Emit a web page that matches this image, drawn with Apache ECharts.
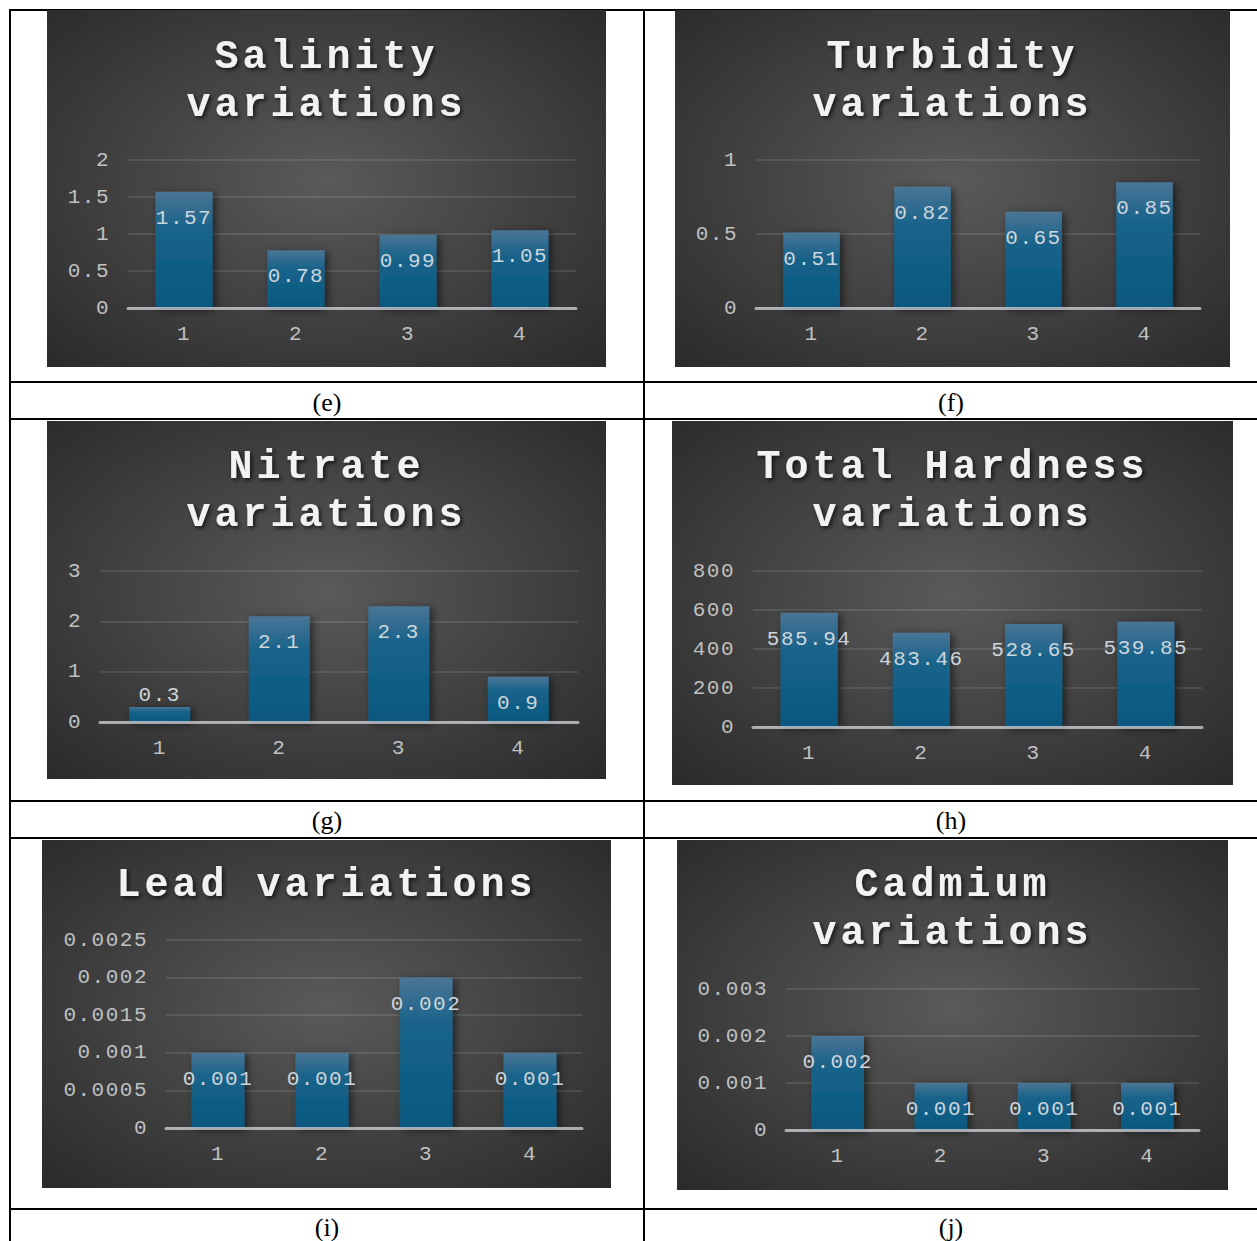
<!DOCTYPE html>
<html>
<head>
<meta charset="utf-8">
<script src="https://cdn.jsdelivr.net/npm/echarts@6/dist/echarts.min.js"></script>
<style>
  html, body { margin: 0; padding: 0; background: #fff; }
  body { position: relative; width: 1257px; height: 1241px; overflow: hidden; }
  .panel { position: absolute; }
  .hl { position: absolute; left: 9px; right: 0; height: 2px; background: #000; }
  .vl { position: absolute; top: 9px; bottom: 0; width: 2px; background: #000; }
  .cap { position: absolute; width: 200px; margin-left: -100px; text-align: center;
         font-family: 'Liberation Serif', 'Times New Roman', serif; font-size: 26px;
         line-height: 30px; color: #000; }
  /* spaced lettering used by every chart text, wider for the titles */
  .panel svg text { letter-spacing: 1.5px; }
  .panel svg text[style*="bold"] { letter-spacing: 4px; }
</style>
</head>
<body>
<script>
// ---- data ----
const categories = ['1', '2', '3', '4'];
const salinity  = [1.57, 0.78, 0.99, 1.05];
const turbidity = [0.51, 0.82, 0.65, 0.85];
const nitrate   = [0.3, 2.1, 2.3, 0.9];
const hardness  = [585.94, 483.46, 528.65, 539.85];
const lead      = [0.001, 0.001, 0.002, 0.001];
const cadmium   = [0.002, 0.001, 0.001, 0.001];

const titles = ['Salinity\nvariations', 'Turbidity\nvariations', 'Nitrate\nvariations',
                'Total Hardness\nvariations', 'Lead variations', 'Cadmium\nvariations'];
const captions = ['(e)', '(f)', '(g)', '(h)', '(i)', '(j)'];
const axisMax  = [2, 1, 3, 800, 0.0025, 0.003];
const axisStep = [0.5, 0.5, 1, 200, 0.0005, 0.001];
const seriesValues = [salinity, turbidity, nitrate, hardness, lead, cadmium];

// ---- page layout: panel boxes [left, top, width, height] and plot areas inside them ----
const boxes = [
  [47, 10, 559, 357], [675, 10, 555, 357],
  [47, 421, 559, 358], [672, 421, 561, 364],
  [42, 840, 569, 348], [677, 840, 551, 350]
];
const plots = [
  { left: 81, top: 150, width: 448, height: 148 },
  { left: 81, top: 150, width: 444, height: 148 },
  { left: 53, top: 150, width: 478, height: 151 },
  { left: 81, top: 150, width: 449, height: 156 },
  { left: 124, top: 100, width: 416, height: 188 },
  { left: 109, top: 149, width: 413, height: 141 }
];
const titleTops = [23, 23, 22, 22, 21, 21];

// table rules and captions
[9, 381, 418, 800, 837, 1208].forEach(function (y) {
  const d = document.createElement('div'); d.className = 'hl'; d.style.top = y + 'px';
  document.body.appendChild(d);
});
[9, 643].forEach(function (x) {
  const d = document.createElement('div'); d.className = 'vl'; d.style.left = x + 'px';
  document.body.appendChild(d);
});
const capPos = [[327, 388], [951, 388], [327, 806], [951, 806], [327, 1213], [951, 1213]];
captions.forEach(function (t, i) {
  const d = document.createElement('div'); d.className = 'cap';
  d.style.left = capPos[i][0] + 'px'; d.style.top = capPos[i][1] + 'px';
  d.textContent = t;
  document.body.appendChild(d);
});

const monoFont = "'Liberation Mono', 'DejaVu Sans Mono', monospace";

const panelBackground = {
  type: 'radial', x: 0.5, y: 0.48, r: 0.78,
  colorStops: [
    { offset: 0, color: '#5a5a5a' },
    { offset: 1, color: '#262626' }
  ]
};

const barFill = {
  type: 'linear', x: 0, y: 0, x2: 0, y2: 1,
  colorStops: [
    { offset: 0, color: '#4a7595' },
    { offset: 0.3, color: '#1b648b' },
    { offset: 0.6, color: '#115e86' },
    { offset: 1, color: '#0b587f' }
  ]
};

function buildPanel(i) {
  const b = boxes[i];
  const el = document.createElement('div');
  el.className = 'panel';
  el.style.left = b[0] + 'px'; el.style.top = b[1] + 'px';
  el.style.width = b[2] + 'px'; el.style.height = b[3] + 'px';
  document.body.appendChild(el);

  const chart = echarts.init(el, null, { renderer: 'svg' });
  const max = axisMax[i];
  const data = seriesValues[i].map(function (v) {
    // short bars carry their label just above the bar
    if (v / max < 0.15) {
      return { value: v, label: { position: 'top', distance: 1 } };
    }
    return v;
  });

  chart.setOption({
    animation: false,
    backgroundColor: panelBackground,
    title: {
      text: titles[i],
      left: 'center',
      top: titleTops[i],
      padding: 0,
      textStyle: {
        fontFamily: monoFont,
        fontWeight: 'bold',
        fontSize: 40,
        lineHeight: 48,
        color: '#f2f2f2',
        textShadowColor: 'rgba(0,0,0,0.7)',
        textShadowBlur: 4,
        textShadowOffsetX: 2,
        textShadowOffsetY: 2
      }
    },
    grid: plots[i],
    xAxis: {
      type: 'category',
      data: categories,
      z: 3,
      axisLine: { lineStyle: { color: 'rgba(205,210,215,0.75)', width: 3 } },
      axisTick: { show: false },
      axisLabel: { color: '#c0c0c0', fontFamily: monoFont, fontSize: 21, margin: 16 }
    },
    yAxis: {
      type: 'value',
      min: 0,
      max: max,
      interval: axisStep[i],
      axisLine: { show: false },
      axisTick: { show: false },
      splitLine: { lineStyle: { color: 'rgba(255,255,255,0.1)', width: 2 } },
      axisLabel: { color: '#c0c0c0', fontFamily: monoFont, fontSize: 21, margin: 18 }
    },
    series: [{
      type: 'bar',
      data: data,
      barWidth: '51%',
      itemStyle: {
        color: barFill,
        shadowColor: 'rgba(0,0,0,0.55)',
        shadowBlur: 8,
        shadowOffsetX: 3,
        shadowOffsetY: 2
      },
      label: {
        show: true,
        position: 'insideTop',
        distance: 16,
        color: '#cdd5dc',
        fontFamily: monoFont,
        fontSize: 21
      }
    }]
  });
}

for (let i = 0; i < 6; i++) buildPanel(i);
</script>
</body>
</html>
